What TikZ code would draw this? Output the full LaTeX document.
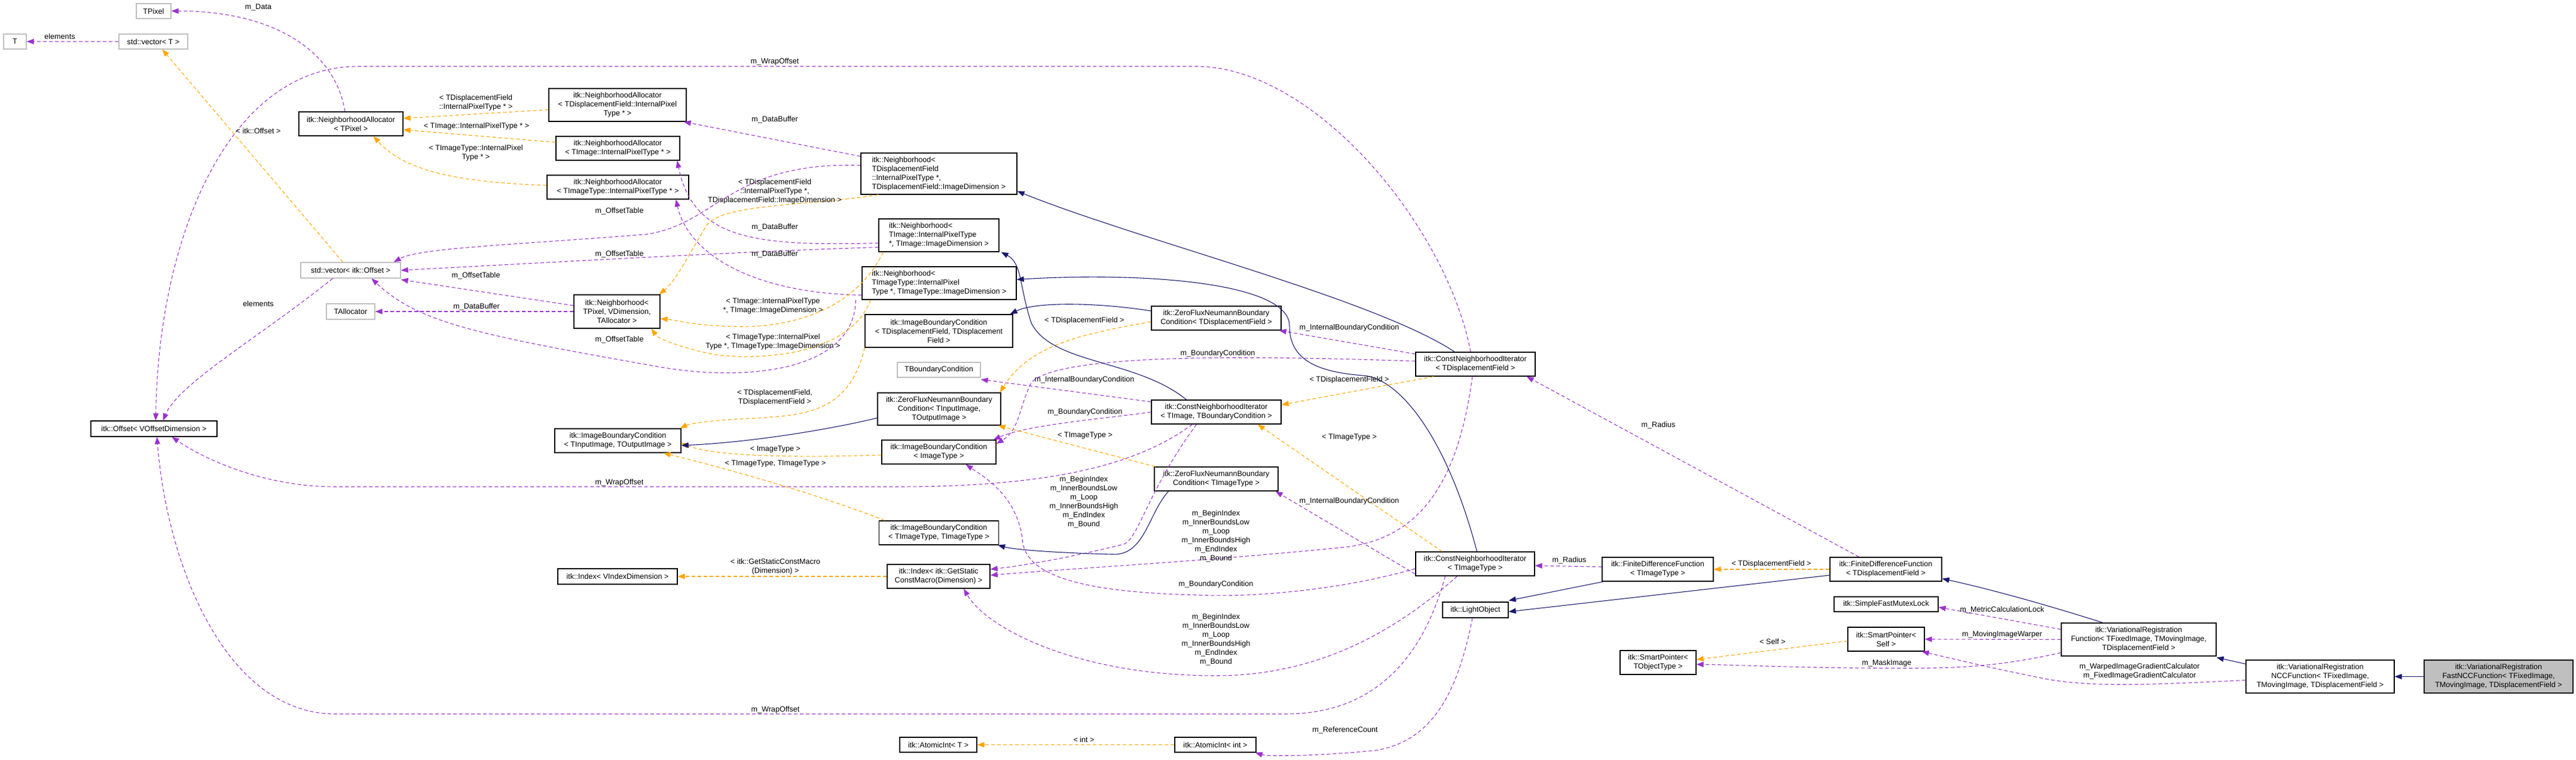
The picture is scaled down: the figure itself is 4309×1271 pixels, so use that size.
\documentclass[tikz,border=0pt]{standalone}
\usepackage{fontspec}
\setmainfont{Liberation Sans}
\usetikzlibrary{arrows.meta}
\definecolor{pur}{HTML}{9A32CD}
\definecolor{org}{HTML}{FFA500}
\definecolor{nav}{HTML}{191970}
\definecolor{gbord}{HTML}{BFBFBF}
\newcommand{\fs}{\fontsize{12.6}{15}\selectfont}
\tikzset{
 box/.style={draw=black, line width=1.3pt, fill=white, inner sep=1pt, align=center, font=\fs},
 gbox/.style={box, draw=gbord},
 lbl/.style={inner sep=0pt, align=center, font=\fs},
 tip/.style={-{Triangle[length=12pt,width=9pt]}},
 use/.style={tip, draw=pur, line width=1.1pt, dash pattern=on 6pt off 4pt},
 tmpl/.style={tip, draw=org, line width=1.1pt, dash pattern=on 6pt off 4pt},
 inh/.style={tip, draw=nav, line width=1.1pt},
}
\begin{document}
\begin{tikzpicture}[x=1pt,y=-1pt]
\useasboundingbox (0,0) rectangle (4309,1271);
% nodes
\node[gbox,minimum width=58,minimum height=25] (TPixel) at (257,18.5) {TPixel};
\node[gbox,minimum width=38,minimum height=25] (T) at (25,69.5) {T};
\node[gbox,minimum width=115,minimum height=25] (vecT) at (256.5,69.5) {std::vector< T >};
\node[box,minimum width=174,minimum height=40] (NATPixel) at (587,207) {itk::NeighborhoodAllocator\\< TPixel >};
\node[box,minimum width=230,minimum height=55] (NADisp) at (1033,175.5) {itk::NeighborhoodAllocator\\< TDisplacementField::InternalPixel\\Type * >};
\node[box,minimum width=207,minimum height=40] (NAImg) at (1033.5,248) {itk::NeighborhoodAllocator\\< TImage::InternalPixelType * >};
\node[box,minimum width=237,minimum height=40] (NAImgT) at (1033.5,313) {itk::NeighborhoodAllocator\\< TImageType::InternalPixelType * >};
\node[gbox,minimum width=167,minimum height=26] (vecOff) at (586.5,452) {std::vector< itk::Offset >};
\node[gbox,minimum width=81,minimum height=26] (TAlloc) at (586.5,521) {TAllocator};
\node[box,minimum width=144,minimum height=56] (NbhGen) at (1032,521) {itk::Neighborhood<\\ TPixel, VDimension,\\ TAllocator >};
\node[box,minimum width=211,minimum height=26] (Offset) at (257.5,717) {itk::Offset< VOffsetDimension >};
\node[box,minimum width=211,minimum height=40] (IBCgen) at (1033.5,737) {itk::ImageBoundaryCondition\\< TInputImage, TOutputImage >};
\node[box,minimum width=261,minimum height=69,align=left] (NbhDisp) at (1570.5,290.5) {itk::Neighborhood<\\ TDisplacementField\\::InternalPixelType *,\\ TDisplacementField::ImageDimension >};
\node[box,minimum width=201,minimum height=55,align=left] (NbhImg) at (1570.5,393.5) {itk::Neighborhood<\\ TImage::InternalPixelType\\*, TImage::ImageDimension >};
\node[box,minimum width=258,minimum height=55,align=left] (NbhImgT) at (1571,473.5) {itk::Neighborhood<\\ TImageType::InternalPixel\\Type *, TImageType::ImageDimension >};
\node[box,minimum width=247,minimum height=55] (IBCDisp) at (1570.5,553.5) {itk::ImageBoundaryCondition\\< TDisplacementField, TDisplacement\\Field >};
\node[gbox,minimum width=139,minimum height=25] (TBC) at (1570.5,618.5) {TBoundaryCondition};
\node[box,minimum width=206,minimum height=54] (ZFNgen) at (1571,684) {itk::ZeroFluxNeumannBoundary\\Condition< TInputImage,\\ TOutputImage >};
\node[box,minimum width=191,minimum height=40] (IBCImg) at (1570.5,756) {itk::ImageBoundaryCondition\\< ImageType >};
\node[box,minimum width=200,minimum height=40] (IBCImgT) at (1570.5,891) {itk::ImageBoundaryCondition\\< TImageType, TImageType >};
\node[box,minimum width=200,minimum height=26] (IdxV) at (1033,964) {itk::Index< VIndexDimension >};
\node[box,minimum width=172,minimum height=40] (IdxG) at (1570,964) {itk::Index< itk::GetStatic\\ConstMacro(Dimension) >};
\node[box,minimum width=129,minimum height=25] (AIT) at (1569.5,1245.5) {itk::AtomicInt< T >};
\node[box,minimum width=136,minimum height=25] (AIint) at (2033,1245.5) {itk::AtomicInt< int >};
\node[box,minimum width=217,minimum height=40] (ZFNDisp) at (2034.5,532) {itk::ZeroFluxNeumannBoundary\\Condition< TDisplacementField >};
\node[box,minimum width=217,minimum height=40] (CNIgen) at (2034.5,689) {itk::ConstNeighborhoodIterator\\< TImage, TBoundaryCondition >};
\node[box,minimum width=207,minimum height=40] (ZFNImgT) at (2034.5,801) {itk::ZeroFluxNeumannBoundary\\Condition< TImageType >};
\node[box,minimum width=200,minimum height=40] (CNIDisp) at (2468,609) {itk::ConstNeighborhoodIterator\\< TDisplacementField >};
\node[box,minimum width=199,minimum height=40] (CNIImgT) at (2467.5,943) {itk::ConstNeighborhoodIterator\\< TImageType >};
\node[box,minimum width=110,minimum height=26] (LightObj) at (2468,1020) {itk::LightObject};
\node[box,minimum width=186,minimum height=40] (FDFImgT) at (2773,952) {itk::FiniteDifferenceFunction\\< TImageType >};
\node[box,minimum width=187,minimum height=40] (FDFDisp) at (3154.5,952) {itk::FiniteDifferenceFunction\\< TDisplacementField >};
\node[box,minimum width=174,minimum height=25] (Mutex) at (3155,1010.5) {itk::SimpleFastMutexLock};
\node[box,minimum width=128,minimum height=40] (SPSelf) at (3155,1069) {itk::SmartPointer<\\ Self >};
\node[box,minimum width=127,minimum height=40] (SPObj) at (2773.5,1108) {itk::SmartPointer<\\ TObjectType >};
\node[box,minimum width=259,minimum height=55] (VRF) at (3577.5,1069.5) {itk::VariationalRegistration\\Function< TFixedImage, TMovingImage,\\ TDisplacementField >};
\node[box,minimum width=248,minimum height=55] (NCC) at (3881,1131.5) {itk::VariationalRegistration\\NCCFunction< TFixedImage,\\ TMovingImage, TDisplacementField >};
\node[box,fill=gbord,minimum width=249,minimum height=55] (Fast) at (4179.5,1131.5) {itk::VariationalRegistration\\FastNCCFunction< TFixedImage,\\ TMovingImage, TDisplacementField >};

% purple usage edges
\draw[use] ([xshift=-10pt]NATPixel.north) .. controls (560,80) and (450,18) .. (TPixel.east);
\draw[use] (vecT.west) -- (T.east);
\draw[use] ([xshift=-30pt]vecOff.south) .. controls (440,560) and (300,640) .. ([xshift=15pt]Offset.north);
\draw[use] ([yshift=10pt]NbhGen.west) -- ([yshift=-2pt]vecOff.south east);
\draw[use] (NbhGen.west) -- (TAlloc.east);
\draw[use] ([yshift=29pt]NbhDisp.west) -- ([xshift=-5pt]NADisp.south east);
\draw[use] ([yshift=14pt]NbhDisp.west) .. controls (1220,270) and (1200,375) .. (1080,392) .. controls (850,410) and (700,415) .. ([xshift=-12pt]vecOff.north east);
\draw[use] ([yshift=-13pt]NbhImg.west) .. controls (1260,412) and (1160,400) .. ([xshift=-5pt]NAImg.south east);
\draw[use] ([yshift=-20pt]NbhImg.west) .. controls (1250,420) and (900,440) .. (vecOff.east);
\draw[use] ([yshift=-20pt]NbhImgT.west) .. controls (1250,490) and (1150,420) .. ([xshift=-22pt]NAImgT.south east);
\draw[use] ([xshift=-10pt]NbhImgT.south west) .. controls (1430,620) and (1250,640) .. (1100,613) .. controls (800,560) and (700,540) .. ([xshift=35pt]vecOff.south);
% wrap offsets
\draw[use] ([xshift=-8pt]CNIDisp.north) .. controls (2420,380) and (2200,111) .. (2000,111) -- (600,111) .. controls (380,111) and (265,400) .. ([xshift=3pt]Offset.north);
\draw[use] ([xshift=-40pt]CNIgen.south) .. controls (1900,780) and (1750,814) .. (1500,814) -- (561,814) .. controls (430,814) and (330,760) .. ([xshift=30pt]Offset.south);
\draw[use] ([xshift=-50pt]CNIImgT.south) .. controls (2380,1100) and (2300,1194) .. (2150,1194) -- (561,1194) .. controls (380,1194) and (280,950) .. ([xshift=5pt]Offset.south);
% boundary conditions
\draw[use] ([yshift=17pt]CNIDisp.west) -- ([xshift=-4pt]ZFNDisp.south east);
\draw[use] ([yshift=5pt]CNIDisp.west) .. controls (2100,595) and (1770,590) .. (1725,640) .. controls (1705,680) and (1705,720) .. ([yshift=14pt]IBCImg.east);
\draw[use] ([yshift=17pt]CNIgen.west) -- ([yshift=-3pt]TBC.south east);
\draw[use] (CNIgen.west) .. controls (1850,700) and (1720,710) .. ([xshift=-5pt]IBCImg.north east);
\draw[use] ([yshift=-17pt]CNIImgT.west) -- ([xshift=-5pt]ZFNImgT.south east);
\draw[use] ([yshift=-8pt]CNIImgT.west) .. controls (2250,985) and (2100,1000) .. (2000,995) .. controls (1800,990) and (1712,960) .. (1710,900) .. controls (1700,830) and (1650,800) .. ([xshift=45pt]IBCImg.south);
% index
\draw[use] ([xshift=-33pt]CNIgen.south) .. controls (1920,820) and (1905,900) .. (1880,910) .. controls (1800,930) and (1720,945) .. ([yshift=12pt]IdxG.east);
\draw[use] ([xshift=-5pt]CNIDisp.south) .. controls (2440,800) and (2380,900) .. (2250,915) .. controls (2000,940) and (1800,950) .. ([yshift=2pt]IdxG.east);
\draw[use] ([xshift=-30pt]CNIImgT.south) .. controls (2330,1060) and (2200,1130) .. (2034,1130) .. controls (1800,1130) and (1650,1050) .. ([xshift=42pt]IdxG.south);
% radius etc
\draw[use] ([xshift=-45pt]FDFDisp.north) -- ([xshift=-15pt]CNIDisp.south east);
\draw[use] ([yshift=4pt]FDFImgT.west) -- ([yshift=-3pt]CNIImgT.east);
\draw[use] ([xshift=-5pt]LightObj.south) .. controls (2440,1150) and (2400,1240) .. (2300,1255) .. controls (2200,1265) and (2120,1265) .. ([xshift=-2pt]AIint.south east);
\draw[use] ([yshift=17pt]VRF.west) -- ([yshift=-5pt]Mutex.east);
\draw[use] (VRF.west) -- (SPSelf.east);
\draw[use] ([yshift=-22pt]VRF.west) .. controls (3320,1120) and (3250,1118) .. (3100,1117) .. controls (3000,1116) and (2900,1112) .. ([yshift=-3pt]SPObj.east);
\draw[use] ([yshift=-6pt]NCC.west) .. controls (3600,1145) and (3500,1150) .. (3420,1135) .. controls (3320,1115) and (3260,1100) .. ([xshift=-5pt]SPSelf.south east);

% orange template edges
\draw[tmpl] ([xshift=-13pt]vecOff.north) -- ([xshift=15pt]vecT.south);
\draw[tmpl] ([yshift=-8pt]NADisp.west) -- ([yshift=9pt]NATPixel.east);
\draw[tmpl] ([yshift=10pt]NAImg.west) -- ([yshift=-10pt]NATPixel.east);
\draw[tmpl] ([yshift=3pt]NAImgT.west) .. controls (780,305) and (680,290) .. ([xshift=-50pt]NATPixel.south east);
\draw[tmpl] ([xshift=30pt]NbhDisp.south west) .. controls (1350,345) and (1200,340) .. (1180,380) .. controls (1150,430) and (1130,470) .. ([xshift=-2pt]NbhGen.north east);
\draw[tmpl] ([xshift=8pt]NbhImg.south west) .. controls (1420,540) and (1280,548) .. (1230,546) .. controls (1160,545) and (1130,535) .. ([yshift=-12pt]NbhGen.east);
\draw[tmpl] ([xshift=15pt]NbhImgT.south west) .. controls (1420,600) and (1250,605) .. (1180,590) .. controls (1120,575) and (1100,565) .. ([xshift=-15pt]NbhGen.south east);
\draw[tmpl] (IBCDisp.south west) .. controls (1420,690) and (1350,695) .. (1250,700) .. controls (1180,703) and (1150,710) .. ([xshift=-2pt]IBCgen.north east);
\draw[tmpl] ([yshift=-5pt]IBCImg.west) .. controls (1350,765) and (1200,765) .. ([yshift=-4pt]IBCgen.east);
\draw[tmpl] ([xshift=10pt]IBCImgT.north west) .. controls (1350,820) and (1200,780) .. ([xshift=-30pt]IBCgen.south east);
\draw[tmpl] ([yshift=-6pt]ZFNDisp.west) .. controls (1800,560) and (1720,580) .. ([xshift=-2pt]ZFNgen.north east);
\draw[tmpl] ([xshift=2pt]ZFNImgT.north west) -- ([xshift=-5pt]ZFNgen.south east);
\draw[tmpl] ([xshift=-70pt]CNIDisp.south) -- ([yshift=12pt]CNIgen.east);
\draw[tmpl] ([xshift=45pt]CNIImgT.north west) -- ([xshift=-40pt]CNIgen.south east);
\draw[tmpl] (IdxG.west) -- (IdxV.east);
\draw[tmpl] (AIint.west) -- (AIT.east);
\draw[tmpl] (FDFDisp.west) -- (FDFImgT.east);
\draw[tmpl] ([yshift=-3pt]SPSelf.west) -- ([yshift=5pt]SPObj.east);

% navy inheritance
\draw[inh] ([xshift=-35pt]CNIDisp.north) .. controls (2300,500) and (1900,400) .. ([yshift=6pt]NbhDisp.south east);
\draw[inh] ([xshift=-50pt]CNIgen.north) .. controls (1900,600) and (1760,610) .. (1725,540) .. controls (1705,480) and (1710,440) .. ([xshift=3pt]NbhImg.south east);
\draw[inh] ([xshift=3pt]CNIImgT.north) .. controls (2420,730) and (2340,632) .. (2280,628) .. controls (2200,622) and (2157,600) .. (2157,545) .. controls (2157,470) and (1900,455) .. ([yshift=6pt]NbhImgT.east);
\draw[inh] ([yshift=12pt]ZFNDisp.west) .. controls (1830,505) and (1730,505) .. ([xshift=-5pt]IBCDisp.north east);
\draw[inh] ([yshift=-15pt]ZFNgen.west) .. controls (1380,720) and (1250,740) .. ([yshift=-8pt]IBCgen.east);
\draw[inh] ([xshift=-80pt]ZFNImgT.south) .. controls (1920,860) and (1915,930) .. (1860,927) .. controls (1780,925) and (1700,920) .. ([xshift=-2pt]IBCImgT.south east);
\draw[inh] ([xshift=3pt]FDFImgT.south west) -- ([yshift=2pt]LightObj.north east);
\draw[inh] ([yshift=-10pt]FDFDisp.west) -- ([yshift=-3pt]LightObj.east);
\draw[inh] ([xshift=-60pt]VRF.north) .. controls (3450,1020) and (3350,990) .. ([yshift=5pt]FDFDisp.south east);
\draw[inh] ([yshift=-7pt]NCC.north west) -- ([yshift=-2pt]VRF.south east);
\draw[inh] (Fast.west) -- (NCC.east);

% labels
\node[lbl] (l1) at (432,12) {m\_Data};
\node[lbl] (l2) at (100,61) {elements};
\node[lbl] (l3) at (432,219) {< itk::Offset >};
\node[lbl] (l4) at (796,172) {< TDisplacementField\\::InternalPixelType * >};
\node[lbl] (l5) at (797,211) {< TImage::InternalPixelType * >};
\node[lbl] (l6) at (796,256) {< TImageType::InternalPixel\\Type * >};
\node[lbl] (l7) at (1036,353) {m\_OffsetTable};
\node[lbl] (l8) at (1036,425) {m\_OffsetTable};
\node[lbl] (l9) at (796,461) {m\_OffsetTable};
\node[lbl] (l10) at (1036,568) {m\_OffsetTable};
\node[lbl] (l11) at (432,508) {elements};
\node[lbl] (l12) at (797,513) {m\_DataBuffer};
\node[lbl] (l13) at (1296,200) {m\_DataBuffer};
\node[lbl] (l14) at (1296,380) {m\_DataBuffer};
\node[lbl] (l15) at (1296,425) {m\_DataBuffer};
\node[lbl] (l16) at (1296,103) {m\_WrapOffset};
\node[lbl] (l17) at (1036,807) {m\_WrapOffset};
\node[lbl] (l18) at (1297,1187) {m\_WrapOffset};
\node[lbl] (l19) at (1296,320) {< TDisplacementField\\::InternalPixelType *,\\ TDisplacementField::ImageDimension >};
\node[lbl] (l20) at (1293,512) {< TImage::InternalPixelType\\*, TImage::ImageDimension >};
\node[lbl] (l21) at (1293,572) {< TImageType::InternalPixel\\Type *, TImageType::ImageDimension >};
\node[lbl] (l22) at (1296,665) {< TDisplacementField,\\TDisplacementField >};
\node[lbl] (l23) at (1297,751) {< ImageType >};
\node[lbl] (l24) at (1297,775) {< TImageType, TImageType >};
\node[lbl] (l25) at (1297,948) {< itk::GetStaticConstMacro\\(Dimension) >};
\node[lbl] (l26) at (1814,536) {< TDisplacementField >};
\node[lbl] (l27) at (1814,635) {m\_InternalBoundaryCondition};
\node[lbl] (l28) at (1815,689) {m\_BoundaryCondition};
\node[lbl] (l29) at (1815,728) {< TImageType >};
\node[lbl] (l30) at (1813,840) {m\_BeginIndex\\m\_InnerBoundsLow\\m\_Loop\\m\_InnerBoundsHigh\\m\_EndIndex\\m\_Bound};
\node[lbl] (l31) at (2037,591) {m\_BoundaryCondition};
\node[lbl] (l32) at (2257,548) {m\_InternalBoundaryCondition};
\node[lbl] (l33) at (2257,635) {< TDisplacementField >};
\node[lbl] (l34) at (2257,731) {< TImageType >};
\node[lbl] (l35) at (2257,838) {m\_InternalBoundaryCondition};
\node[lbl] (l36) at (2034,897) {m\_BeginIndex\\m\_InnerBoundsLow\\m\_Loop\\m\_InnerBoundsHigh\\m\_EndIndex\\m\_Bound};
\node[lbl] (l37) at (2034,977) {m\_BoundaryCondition};
\node[lbl] (l38) at (2034,1070) {m\_BeginIndex\\m\_InnerBoundsLow\\m\_Loop\\m\_InnerBoundsHigh\\m\_EndIndex\\m\_Bound};
\node[lbl] (l39) at (1813,1237) {< int >};
\node[lbl] (l40) at (2250,1221) {m\_ReferenceCount};
\node[lbl] (l41) at (2774,711) {m\_Radius};
\node[lbl] (l42) at (2625,937) {m\_Radius};
\node[lbl] (l43) at (2963,943) {< TDisplacementField >};
\node[lbl] (l44) at (2965,1073) {< Self >};
\node[lbl] (l45) at (3156,1109) {m\_MaskImage};
\node[lbl] (l46) at (3349,1020) {m\_MetricCalculationLock};
\node[lbl] (l47) at (3349,1061) {m\_MovingImageWarper};
\node[lbl] (l48) at (3579,1123) {m\_WarpedImageGradientCalculator\\m\_FixedImageGradientCalculator};
\end{tikzpicture}
\end{document}
